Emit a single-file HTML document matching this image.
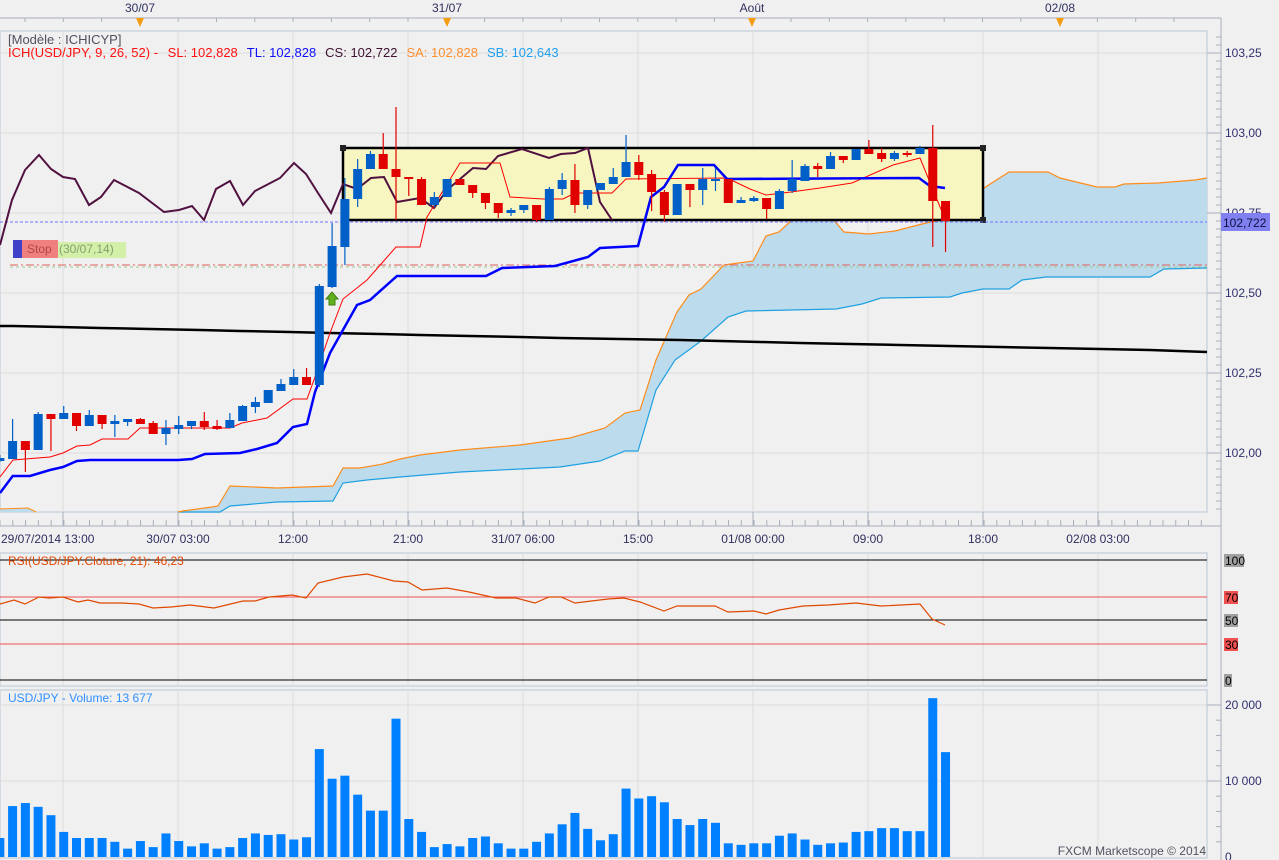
<!DOCTYPE html>
<html><head><meta charset="utf-8"><style>
html,body{margin:0;padding:0;background:#f0f0f0;}
svg{display:block;font-family:"Liberation Sans",sans-serif;}
</style></head><body>
<svg id="s" width="1279" height="860" viewBox="0 0 1279 860" xmlns="http://www.w3.org/2000/svg">
<rect width="1279" height="860" fill="#f0f0f0"/>
<line x1="0" y1="18" x2="1221" y2="18" stroke="#a8b0bc"/>
<line x1="1221" y1="18" x2="1221" y2="860" stroke="#a8b0bc"/>
<g id="topticks" stroke="#a8b0bc"></g>
<g font-size="12" fill="#303060" text-anchor="middle">
<text x="140" y="12">30/07</text><text x="447" y="12">31/07</text><text x="752" y="12">Août</text><text x="1060" y="12">02/08</text>
</g>
<g fill="#f39c12">
<polygon points="136,18 144,18 140,27"/><polygon points="443,18 451,18 447,27"/><polygon points="748,18 756,18 752,27"/><polygon points="1056,18 1064,18 1060,27"/>
</g>
<rect x="0" y="31" width="1207" height="481" fill="none" stroke="#ccd4de" stroke-width="1.5"/>
<rect x="0" y="553" width="1207" height="133" fill="none" stroke="#ccd4de" stroke-width="1.5"/>
<rect x="0" y="690" width="1207" height="168" fill="none" stroke="#ccd4de" stroke-width="1.5"/>
<g id="grid" stroke="#dcdcdc" stroke-width="1"></g>
<g id="cloud"></g>
<polyline points="0,326 13,326 60,327 100,328 150,329 200,330 240,331 290,332 330,333 380,334 420,335 470,336 520,337 560,338 620,339 680,340 720,341 760,342 800,343 850,344 900,345 950,346 1000,347 1050,348 1100,349 1150,350 1207,352" fill="none" stroke="#000" stroke-width="2.5"/>
<rect x="343" y="148" width="640" height="72" fill="#f8f6c0" stroke="#000" stroke-width="2.5"/>
<rect x="340" y="145" width="6" height="6" fill="#222"/><rect x="980" y="145" width="6" height="6" fill="#222"/><rect x="980" y="217" width="6" height="6" fill="#222"/>
<line x1="0" y1="222" x2="1207" y2="222" stroke="#7070ff" stroke-dasharray="3,2"/>
<line x1="10" y1="265" x2="1207" y2="265" stroke="#e06060" stroke-dasharray="8,3,2,3"/>
<line x1="10" y1="267" x2="1207" y2="267" stroke="#a0c890" stroke-dasharray="3,3"/>
<g id="lines"></g>
<g id="candles"></g>
<rect x="13" y="240" width="9" height="18" fill="#4040c8"/>
<rect x="22" y="240" width="36" height="18" fill="#f08080"/>
<rect x="58" y="242" width="68" height="16" fill="#d4f0a8"/>
<text x="27" y="253" font-size="12" fill="#b04848">Stop</text>
<text x="59" y="253" font-size="12" fill="#80a070">(30/07,14)</text>
<polygon points="332,292 338,299 335,299 335,305 329,305 329,299 326,299" fill="#60b020" stroke="#408010"/>
<text x="8" y="44" font-size="13" fill="#505060">[Modèle : ICHICYP]</text>
<text x="8" y="57" font-size="13"><tspan fill="#ff1010">ICH(USD/JPY, 9, 26, 52) -  </tspan><tspan fill="#ff1010" dx="6">SL: 102,828</tspan><tspan fill="#1010ff" dx="9">TL: 102,828</tspan><tspan fill="#401030" dx="9">CS: 102,722</tspan><tspan fill="#ff9030" dx="9">SA: 102,828</tspan><tspan fill="#20a0f0" dx="9">SB: 102,643</tspan></text>
<g font-size="12" fill="#303070">
<text x="1225" y="57">103,25</text><text x="1225" y="137">103,00</text><text x="1225" y="217">102,75</text><text x="1225" y="297">102,50</text><text x="1225" y="377">102,25</text><text x="1225" y="457">102,00</text>
</g>
<rect x="1221" y="213" width="49" height="18" fill="#8080f0"/>
<text x="1223" y="227" font-size="12" fill="#101040">102,722</text>
<line x1="0" y1="526" x2="1221" y2="526" stroke="#a8b0bc"/>
<g id="timeticks" stroke="#a8b0bc"></g>
<g font-size="12" fill="#303060" text-anchor="middle">
<text x="1" y="543" text-anchor="start">29/07/2014 13:00</text>
<text x="178" y="543">30/07 03:00</text><text x="293" y="543">12:00</text><text x="408" y="543">21:00</text><text x="523" y="543">31/07 06:00</text><text x="638" y="543">15:00</text><text x="753" y="543">01/08 00:00</text><text x="868" y="543">09:00</text><text x="983" y="543">18:00</text><text x="1098" y="543">02/08 03:00</text>
</g>
<line x1="0" y1="560" x2="1207" y2="560" stroke="#000"/>
<line x1="0" y1="597" x2="1207" y2="597" stroke="#f05050"/>
<line x1="0" y1="620" x2="1207" y2="620" stroke="#000"/>
<line x1="0" y1="644" x2="1207" y2="644" stroke="#f05050"/>
<line x1="0" y1="680" x2="1207" y2="680" stroke="#000"/>
<polyline fill="none" stroke="#e04800" stroke-width="1.2" points="0,604 14,600 25,604 39,597 49,598 63,597 78,602 88,600 100,603 122,603 139,604 153,608 171,607 190,605 214,608 243,601 255,601 269,597 292,595 306,598 318,583 343,577 367,574 394,581 408,582 422,590 447,588 469,592 496,598 516,598 535,603 549,597 561,597 575,603 608,599 624,598 640,602 664,611 677,606 715,606 728,612 754,611 766,614 779,610 803,606 828,605 856,603 881,606 920,604 932,619 945,625"/>
<text x="8" y="565" font-size="12" fill="#e04800">RSI(USD/JPY.Cloture, 21): 46,23</text>
<g font-size="12">
<rect x="1224" y="554" width="20" height="13" fill="#a0a0a0"/><text x="1225" y="565" fill="#000">100</text>
<rect x="1224" y="591" width="14" height="13" fill="#f05050"/><text x="1225" y="602" fill="#000">70</text>
<rect x="1224" y="614" width="14" height="13" fill="#a0a0a0"/><text x="1225" y="625" fill="#000">50</text>
<rect x="1224" y="638" width="14" height="13" fill="#f05050"/><text x="1225" y="649" fill="#000">30</text>
<rect x="1224" y="674" width="8" height="13" fill="#a0a0a0"/><text x="1225" y="685" fill="#000">0</text>
</g>
<g id="vol" fill="#0080ff"></g>
<text x="8" y="702" font-size="12" fill="#3090ff">USD/JPY - Volume: 13 677</text>
<g font-size="12" fill="#303070">
<text x="1225" y="709">20 000</text><text x="1225" y="785">10 000</text><text x="1225" y="861">0</text>
</g>
<text x="1206" y="855" font-size="12" fill="#505060" text-anchor="end">FXCM Marketscope © 2014</text>
<g id="axticks" stroke="#a8b0bc"></g>
</svg>
<script>
var NS="http://www.w3.org/2000/svg";
function el(p,t,a){var e=document.createElementNS(NS,t);for(var k in a)e.setAttribute(k,a[k]);document.getElementById(p).appendChild(e);return e;}
[63,178,293,408,523,638,753,868,983,1098].forEach(function(x){
 el('grid','line',{x1:x,y1:31,x2:x,y2:512});el('grid','line',{x1:x,y1:553,x2:x,y2:686});el('grid','line',{x1:x,y1:690,x2:x,y2:857});
 el('timeticks','line',{x1:x,y1:512,x2:x,y2:526});
});
[53,133,213,293,373,453].forEach(function(y){el('grid','line',{x1:0,y1:y,x2:1207,y2:y});el('axticks','line',{x1:1207,y1:y,x2:1221,y2:y});});
[705,781].forEach(function(y){el('grid','line',{x1:0,y1:y,x2:1207,y2:y});el('axticks','line',{x1:1207,y1:y,x2:1221,y2:y});});
for(var y=37;y<512;y+=8)el('axticks','line',{x1:1216,y1:y,x2:1221,y2:y});
for(var y=705;y<857;y+=15.2)el('axticks','line',{x1:1216,y1:y,x2:1221,y2:y});
for(var x=0;x<1207;x+=12.78){el('timeticks','line',{x1:x,y1:520,x2:x,y2:526});}
for(var x=25;x<1207;x+=38.3){el('topticks','line',{x1:x,y1:18,x2:x,y2:22});}
var A=[[0,509],[28,508],[36,512]];
var SA=[[178,512],[183,511],[212,507],[218,506],[230,486],[277,488],[333,486],[343,468],[360,468],[383,464],[400,459],[420,455],[460,450],[520,445],[570,438],[605,428],[625,413],[640,410],[656,360],[677,312],[689,295],[701,289],[724,265],[753,261],[766,236],[779,232],[792,220],[832,218],[844,232],[869,234],[895,231],[926,223],[946,219],[962,213],[984,188],[1009,172],[1048,172],[1060,178],[1097,187],[1115,187],[1124,184],[1158,183],[1195,180],[1207,178]];
var SB=[[178,512],[220,512],[230,506],[277,502],[333,501],[343,483],[367,480],[400,477],[460,472],[560,467],[600,461],[625,451],[638,451],[656,390],[675,360],[701,341],[728,317],[746,311],[836,309],[862,304],[881,298],[950,297],[962,293],[983,289],[1009,289],[1022,280],[1046,277],[1150,277],[1164,269],[1207,268]];
function pts(a){return a.map(function(p){return p.join(',')}).join(' ');}
el('cloud','polygon',{points:pts(SA)+' '+pts(SB.slice().reverse()),fill:'#bcdcee'});
el('cloud','polygon',{points:"0,509 28,508 36,512 0,512",fill:'#bcdcee'});
el('cloud','polyline',{points:pts(A),fill:'none',stroke:'#ff8c1a'});
el('cloud','polyline',{points:pts(SB),fill:'none',stroke:'#1ea0e0','stroke-width':1.2});
el('cloud','polyline',{points:pts(SA),fill:'none',stroke:'#ff8c1a','stroke-width':1.2});
var C=[[-1,455,462,458,461,'b'],[0,419,459,441,459,'b'],[1,441,472,441,450,'r'],[2,412,450,414,450,'b'],[3,414,451,414,419,'r'],[4,406,419,413,419,'b'],[5,413,431,413,426,'r'],[6,410,426,415,426,'b'],[7,415,429,415,424,'r'],[8,415,437,421,424,'b'],[9,419,426,419,422,'b'],[10,418,424,419,424,'r'],[11,421,434,423,434,'r'],[12,420,445,428,434,'b'],[13,416,434,425,429,'b'],[14,421,429,421,426,'b'],[15,412,430,421,427,'r'],[16,420,430,426,429,'r'],[17,413,428,420,428,'b'],[18,405,421,406,421,'b'],[19,397,413,402,407,'b'],[20,390,403,390,403,'b'],[21,379,391,384,391,'b'],[22,369,385,377,385,'b'],[23,368,385,377,385,'r'],[24,284,387,286,385,'b'],[25,223,288,246,287,'b'],[26,178,265,199,247,'b'],[27,159,207,169,199,'b'],[28,151,169,154,169,'b'],[29,133,169,154,169,'r'],[30,107,220,169,177,'r'],[31,177,196,177,179,'r'],[32,177,205,179,205,'r'],[33,192,207,197,205,'b'],[34,179,197,179,197,'b'],[35,179,185,179,185,'r'],[36,185,198,185,193,'r'],[37,193,209,193,203,'r'],[38,203,218,203,213,'r'],[39,208,216,210,213,'b'],[40,205,213,205,210,'b'],[41,205,222,205,220,'r'],[42,187,220,189,220,'b'],[43,173,195,180,189,'b'],[44,164,213,180,205,'r'],[45,190,209,190,205,'b'],[46,183,190,183,190,'b'],[47,168,184,177,184,'b'],[48,135,177,162,177,'b'],[49,155,180,162,175,'r'],[50,170,211,174,192,'r'],[51,190,222,192,215,'r'],[52,184,215,184,215,'b'],[53,184,207,184,190,'r'],[54,168,205,179,190,'b'],[55,168,191,179,181,'b'],[56,179,203,179,203,'r'],[57,197,203,200,203,'b'],[58,196,202,198,201,'b'],[59,198,219,198,209,'r'],[60,189,209,191,209,'b'],[61,160,193,179,191,'b'],[62,164,181,166,181,'b'],[63,163,177,166,169,'r'],[64,152,169,156,169,'b'],[65,156,163,156,160,'r'],[66,149,160,149,160,'b'],[67,140,154,149,154,'r'],[68,148,162,153,159,'r'],[69,151,161,153,159,'b'],[70,151,157,153,154,'r'],[71,146,154,148,154,'b'],[72,125,247,148,201,'r'],[73,201,252,201,221,'r']];
C.forEach(function(c){var x=12.6+12.78*c[0];var col=c[5]=='b'?'#0060c8':'#e00000';
 el('candles','line',{x1:x,y1:c[1],x2:x,y2:c[2],stroke:col,'stroke-width':1.2});
 el('candles','rect',{x:x-4.5,y:c[3],width:9,height:Math.max(2,c[4]-c[3]),fill:col});});
var KJ=[[0,493],[12.7,476],[30,476],[50,470],[63,467],[77,461],[90,460],[178,460],[192,459],[205,454],[240,453],[257,449],[277,443],[293,427],[307,424],[315,392],[330,353],[357,305],[370,300],[397,276],[486,276],[502,268],[555,266],[588,257],[600,248],[638,246],[651,197],[664,187],[678,165],[714,165],[727,179],[919,178],[930,186],[945,188]];
var TK=[[0,477],[13,460],[50,457],[63,453],[77,446],[90,445],[102,439],[128,439],[140,428],[230,428],[242,423],[267,418],[293,399],[307,399],[315,377],[330,333],[343,299],[367,280],[396,247],[420,247],[427,217],[460,163],[500,163],[510,197],[543,199],[563,199],[575,193],[612,193],[626,179],[727,178],[750,189],[766,195],[791,192],[820,188],[852,183],[893,165],[920,158],[945,219]];
var CS=[[0,245],[12,200],[25,170],[39,155],[51,169],[63,177],[75,179],[89,205],[101,197],[114,180],[139,193],[164,212],[179,210],[192,206],[204,220],[216,189],[230,181],[243,205],[255,191],[280,178],[294,163],[306,174],[318,193],[331,213],[343,184],[357,189],[371,178],[384,177],[397,202],[420,198],[434,208],[447,190],[473,168],[486,169],[498,156],[522,149],[549,158],[561,154],[575,153],[588,148],[600,202],[612,220]];
el('lines','polyline',{points:pts(CS),fill:'none',stroke:'#501040','stroke-width':2});
el('lines','polyline',{points:pts(TK),fill:'none',stroke:'#ff0000','stroke-width':1});
el('lines','polyline',{points:pts(KJ),fill:'none',stroke:'#0000ff','stroke-width':2.5});
var V=[2.5,6.7,7.1,6.6,5.5,3.3,2.5,2.5,2.5,2.0,1.1,2.1,1.3,3.1,2.1,1.4,1.8,1.1,1.3,2.5,3.1,2.9,3.0,2.3,2.6,14.2,10.3,10.7,8.2,6.1,6.1,18.2,5.0,3.3,1.3,1.7,1.4,2.5,2.7,1.8,1.1,1.1,2.0,3.1,4.3,5.8,3.7,2.2,3.0,9.0,7.7,8.0,7.2,5.0,4.2,5.0,4.5,1.8,1.6,1.8,1.8,2.8,3.1,2.3,1.6,1.8,1.9,3.3,3.4,3.8,3.8,3.4,3.4,20.9,13.8];
V.forEach(function(v,i){var x=12.6+12.78*(i-1);var h=v*7.6;el('vol','rect',{x:x-4.5,y:857-h,width:9,height:h});});
</script>
</body></html>
